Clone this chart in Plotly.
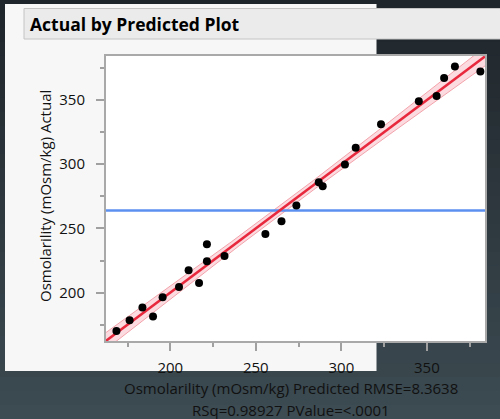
import numpy as np
import plotly.graph_objects as go

# ---- data ----
predicted = [168.5, 176.2, 183.7, 189.9, 195.5, 205.1, 210.7, 216.8, 221.4, 221.4,
             231.7, 255.6, 265.0, 273.7, 286.8, 289.1, 302.1, 308.4, 323.2, 345.3,
             355.7, 360.1, 366.4, 381.3]
actual = [170.1, 178.4, 188.3, 181.3, 196.3, 204.4, 217.4, 207.5, 224.4, 237.6,
          228.5, 245.6, 255.5, 267.8, 285.9, 282.8, 299.7, 312.9, 331.1, 349.0,
          353.1, 367.1, 376.2, 372.3]
rmse = 8.3638
rsq = 0.98927
t_crit = 2.0739  # t(0.975, 22)
axis_range = [162.4, 384.0]
y_range = [162.3, 384.3]
tick_vals = [200, 250, 300, 350]

title_text = "Actual by Predicted Plot"
x_title1 = "Osmolarility (mOsm/kg) Predicted RMSE=8.3638"
x_title2 = "RSq=0.98927 PValue=<.0001"
y_title = "Osmolarility (mOsm/kg) Actual"

# ---- layout geometry ----
W, H = 500, 419
L, R, T, B = 106, 15, 56, 78
PW, PH = W - L - R, H - T - B

def fx(px):
    return (px - L) / PW

def fy(py):
    return 1 - (py - T) / PH

FONT = "Open Sans"

x = np.array(predicted)
y = np.array(actual)
n = len(x)
xbar = x.mean()
sxx = ((x - xbar) ** 2).sum()
xs = np.linspace(axis_range[0], axis_range[1], 200)
hw = t_crit * rmse * np.sqrt(1.0 / n + (xs - xbar) ** 2 / sxx)
upper = xs + hw
lower = xs - hw
ymean = y.mean()

fig = go.Figure()
fig.add_trace(go.Scatter(x=xs, y=upper, mode="lines",
                         line=dict(color="#f3a3ab", width=1), hoverinfo="skip"))
fig.add_trace(go.Scatter(x=xs, y=lower, mode="lines", fill="tonexty",
                         fillcolor="rgba(250,190,198,0.55)",
                         line=dict(color="#f3a3ab", width=1), hoverinfo="skip"))
fig.add_trace(go.Scatter(x=axis_range, y=[ymean, ymean], mode="lines",
                         line=dict(color="#5b8ff0", width=2.5)))
fig.add_trace(go.Scatter(x=axis_range, y=axis_range, mode="lines",
                         line=dict(color="#e8283c", width=2.5)))
fig.add_trace(go.Scatter(x=predicted, y=actual, mode="markers",
                         marker=dict(color="black", size=8)))

shapes = []
# dark gradient background
top_c = np.array([0x1f, 0x26, 0x2b])
bot_c = np.array([0x3d, 0x4b, 0x52])
steps = 30
for i in range(steps):
    c = top_c + (bot_c - top_c) * (i / (steps - 1))
    y0 = H * i / steps
    y1 = H * (i + 1) / steps + 1
    shapes.append(dict(type="rect", xref="paper", yref="paper", layer="below",
                       x0=fx(0), x1=fx(W), y0=fy(y1), y1=fy(y0),
                       fillcolor="rgb(%d,%d,%d)" % tuple(c.astype(int)),
                       line=dict(width=0)))
# light panel
shapes.append(dict(type="rect", xref="paper", yref="paper", layer="below",
                   x0=fx(5), x1=fx(376.5), y0=fy(371), y1=fy(4),
                   fillcolor="#f7f7f7", line=dict(width=0)))
# title bar
shapes.append(dict(type="rect", xref="paper", yref="paper", layer="below",
                   x0=fx(24), x1=fx(503), y0=fy(39), y1=fy(8.5),
                   fillcolor="#ebebeb", line=dict(color="#c4c4c4", width=1)))
# white plot area
shapes.append(dict(type="rect", xref="paper", yref="paper", layer="below",
                   x0=0, x1=1, y0=0, y1=1,
                   fillcolor="white", line=dict(width=0)))

annotations = [
    dict(text="<b>%s</b>" % title_text, xref="paper", yref="paper",
         x=fx(28), y=fy(24), xanchor="left", yanchor="middle", showarrow=False,
         font=dict(family=FONT, size=17.5, color="black")),
    dict(text=x_title1, xref="paper", yref="paper", x=fx(291), y=fy(388),
         xanchor="center", yanchor="middle", showarrow=False,
         font=dict(family=FONT, size=15, color="#111111")),
    dict(text=x_title2, xref="paper", yref="paper", x=fx(291), y=fy(410),
         xanchor="center", yanchor="middle", showarrow=False,
         font=dict(family=FONT, size=15, color="#111111")),
    dict(text=y_title, xref="paper", yref="paper", x=fx(45), y=fy(196),
         xanchor="center", yanchor="middle", textangle=-90, showarrow=False,
         font=dict(family=FONT, size=15, color="#111111")),
]

axis_common = dict(
    showgrid=False, zeroline=False, showline=True, mirror=True,
    linecolor="#a9a9a9", linewidth=2,
    ticks="outside", ticklen=8, tickwidth=1.5, tickcolor="#a0a0a0",
    tickvals=tick_vals, tickfont=dict(family=FONT, size=15, color="#111111"),
    minor=dict(ticks="outside", ticklen=4, tickwidth=1.5, tickcolor="#a0a0a0",
               tickvals=[175, 225, 275, 325, 375]),
)

fig.update_layout(
    width=W, height=H, margin=dict(l=L, r=R, t=T, b=B),
    paper_bgcolor="#2c363c", plot_bgcolor="white",
    showlegend=False, shapes=shapes, annotations=annotations,
    xaxis=dict(range=axis_range, ticklabelstandoff=4, **axis_common),
    yaxis=dict(range=y_range, ticklabelstandoff=8, **axis_common),
)

fig.write_html("out.html")
